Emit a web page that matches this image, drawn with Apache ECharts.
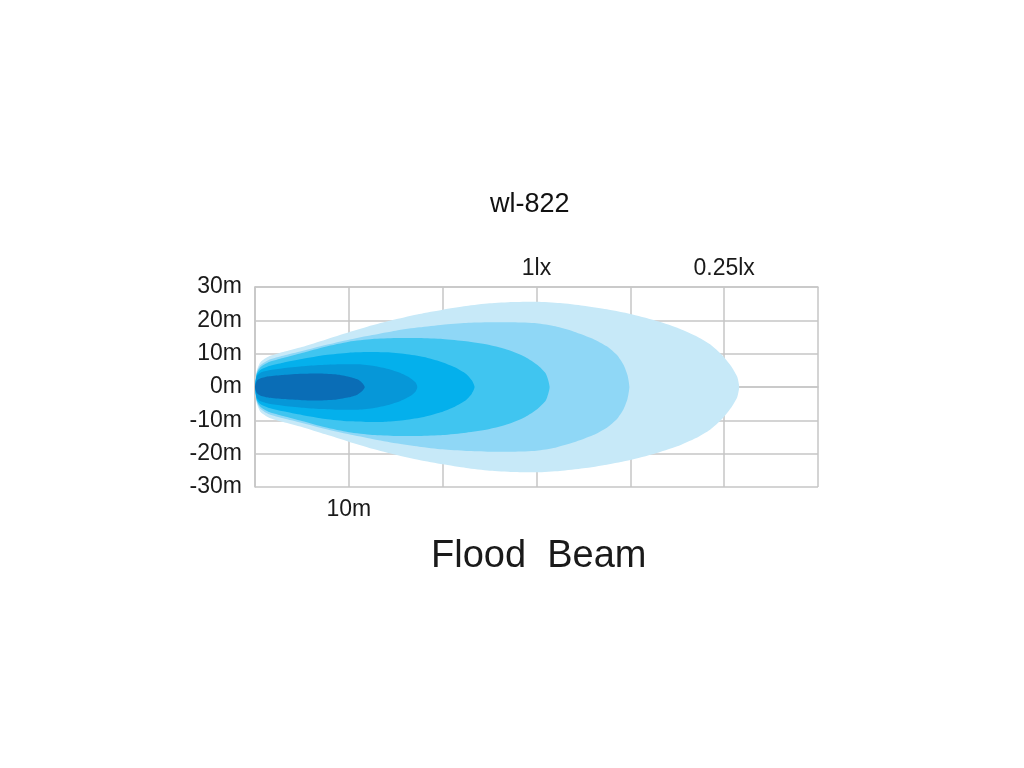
<!DOCTYPE html>
<html>
<head>
<meta charset="utf-8">
<script src="https://cdn.jsdelivr.net/npm/echarts@6/dist/echarts.min.js"></script>
<style>
html,body{margin:0;padding:0;background:#fff;}
#chart{width:1024px;height:768px;}
</style>
</head>
<body>
<div id="chart"></div>
<script>
// Tick values (metres)
const xTicks = [0, 10, 20, 30, 40, 50, 60];
const yTicks = [-30, -20, -10, 0, 10, 20, 30];
const bottomLabelValues = [10];
const bottomLabelTexts = ['10m'];
const topLabelValues = [30, 50];
const topLabelTexts = ['1lx', '0.25lx'];

// Beam contours: [distance (m), half width (m)], outermost first
const beam025lx = [[0,0],[0.2,5],[0.6,7.5],[1.5,9.2],[3,10.5],[5,12],[7.5,14.2],[10,16.4],[12.5,18.5],[15,20.3],[17.5,21.9],[20,23.2],[22.5,24.3],[25,25.1],[27.5,25.5],[30,25.6],[32.5,25.2],[35,24.4],[37.5,23.3],[40,21.9],[42.5,20.1],[45,17.8],[47,15.3],[48.5,12.8],[49.8,9.5],[50.8,6],[51.4,3],[51.6,0]];
const beam05lx  = [[0,0],[0.2,4.5],[0.6,6.6],[1.5,8.2],[3,9.4],[5,10.8],[7.5,12.6],[10,14.2],[12.5,15.6],[15,16.9],[17.5,17.9],[20,18.7],[22.5,19.2],[25,19.4],[27.5,19.4],[30,19.1],[32,18.2],[34,16.6],[36,14.5],[37.5,12.2],[38.6,9.5],[39.3,6.5],[39.7,3.5],[39.9,0]];
const beam1lx   = [[0,0],[0.2,4.2],[0.6,6],[1.5,7.5],[3,8.7],[5,10.2],[7.5,12.1],[10,13.6],[12.5,14.4],[15,14.7],[17.5,14.7],[20,14.4],[22.5,13.7],[25,12.6],[27,11.1],[28.8,9],[30.1,6.6],[31,4],[31.4,0]];
const beam2lx   = [[0,0],[0.2,3.8],[0.6,5.2],[1.5,6.3],[3,7.3],[5,8.4],[7.5,9.6],[10,10.3],[12,10.5],[14,10.4],[16,9.9],[18,9],[19.8,7.6],[21.3,5.9],[22.5,3.9],[23.1,2],[23.4,0]];
const beam5lx   = [[0,0],[0.2,3.3],[0.6,4.3],[1.5,5],[3,5.6],[5,6.2],[7,6.6],[9,6.85],[11,6.8],[12.7,6.3],[14.2,5.4],[15.5,4.2],[16.5,2.8],[17.1,1.4],[17.3,0]];
const beam10lx  = [[0,0],[0.2,1.9],[0.6,2.6],[1.5,3.2],[3,3.6],[5,3.95],[7,4.05],[8.7,3.75],[10,3.1],[10.9,2.3],[11.4,1.3],[11.7,0]];

const beamLayers = [beam025lx, beam05lx, beam1lx, beam2lx, beam5lx, beam10lx];
const beamColors = ['#c7e9f8', '#8fd7f6', '#40c5f0', '#04b0ec', '#0697d8', '#0a6db6'];

const FONT = '"Liberation Sans", Arial, Helvetica, sans-serif';
const gridColor = '#c6c6c6';

const chart = echarts.init(document.getElementById('chart'), null, {renderer: 'canvas'});

function makeBeamSeries(profile, color, idx) {
  return {
    type: 'custom',
    name: 'beam' + idx,
    xAxisIndex: 0,
    yAxisIndex: 0,
    z: 10 + idx,
    silent: true,
    data: [[0]],
    renderItem: function (params, api) {
      const pts = [];
      for (let i = 0; i < profile.length; i++) {
        pts.push(api.coord([profile[i][0], profile[i][1]]));
      }
      for (let i = profile.length - 2; i >= 1; i--) {
        pts.push(api.coord([profile[i][0], -profile[i][1]]));
      }
      return {
        type: 'polygon',
        shape: {points: pts, smooth: 0.2},
        style: {fill: color, stroke: null}
      };
    }
  };
}

const option = {
  backgroundColor: '#ffffff',
  animation: false,
  grid: {left: 255, right: 206, top: 287, bottom: 281, containLabel: false},
  xAxis: [
    {
      type: 'value', position: 'bottom', min: 0, max: 60, interval: 10,
      axisLine: {show: true, lineStyle: {color: gridColor, width: 1.5}},
      axisTick: {show: false},
      splitLine: {show: true, lineStyle: {color: gridColor, width: 1.5}},
      axisLabel: {
        margin: 11, fontSize: 23, color: '#1a1a1a', fontFamily: FONT,
        formatter: function (v) {
          const i = bottomLabelValues.indexOf(v);
          return i >= 0 ? bottomLabelTexts[i] : '';
        }
      }
    },
    {
      type: 'value', position: 'top', min: 0, max: 60, interval: 10,
      axisLine: {show: true, lineStyle: {color: gridColor, width: 1.5}},
      axisTick: {show: false},
      splitLine: {show: false},
      axisLabel: {
        margin: 7, fontSize: 23, color: '#1a1a1a', fontFamily: FONT,
        formatter: function (v) {
          const i = topLabelValues.indexOf(v);
          return i >= 0 ? topLabelTexts[i] : '';
        }
      }
    }
  ],
  yAxis: {
    type: 'value', min: -30, max: 30, interval: 10,
    axisLine: {show: true, lineStyle: {color: gridColor, width: 1.5}},
    axisTick: {show: false},
    splitLine: {show: true, lineStyle: {color: gridColor, width: 1.5}},
    axisLabel: {
      margin: 13, fontSize: 23, color: '#1a1a1a', fontFamily: FONT,
      formatter: function (v) { return v + 'm'; }
    }
  },
  graphic: [
    {
      type: 'text', left: 530 - 40, top: 191, z: 100,
      style: {text: 'wl-822', fontSize: 27, fontFamily: FONT, fill: '#111', width: 80, align: 'center'}
    },
    {
      type: 'text', left: 431, top: 538, z: 100,
      style: {text: 'Flood  Beam', fontSize: 38, fontFamily: FONT, fill: '#1a1a1a'}
    }
  ],
  series: beamLayers.map(function (p, i) { return makeBeamSeries(p, beamColors[i], i); })
};

chart.setOption(option);
</script>
</body>
</html>
